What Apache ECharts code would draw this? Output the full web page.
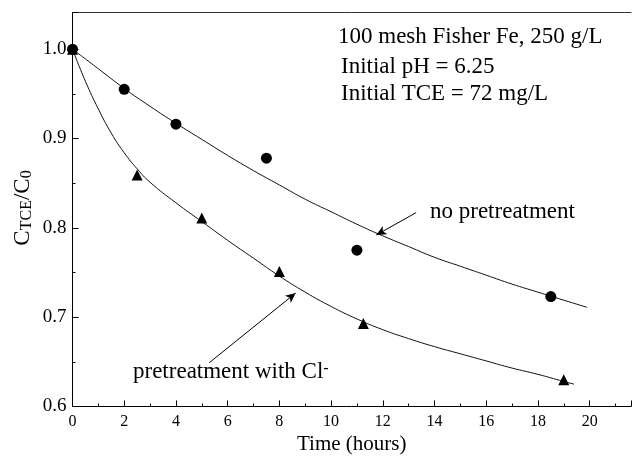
<!DOCTYPE html>
<html><head><meta charset="utf-8">
<script src="https://cdn.jsdelivr.net/npm/echarts@6/dist/echarts.min.js"></script>
<style>html,body{margin:0;padding:0;background:#fff}#c{width:634px;height:464px}</style>
</head><body><div id="c"></div>
<script>
// measured data (no pretreatment = circles, pretreatment with Cl- = triangles)
const circleTime = [0, 2, 4, 7.5, 11, 18.5];
const circleValue = [1.0, 0.955, 0.916, 0.878, 0.775, 0.723];
const triTime = [0, 2.5, 5, 8, 11.25, 19];
const triValue = [1.0, 0.859, 0.811, 0.751, 0.693, 0.630];
// fitted curves
const fitNoTime = [0, 1, 2, 3, 4, 5, 6, 7, 8, 9, 10, 11, 12, 13, 14, 15, 16, 17, 18, 19, 19.9];
const fitNoValue = [1.0, 0.978, 0.956, 0.936, 0.917, 0.899, 0.881, 0.864, 0.848, 0.832, 0.818, 0.804, 0.791, 0.779, 0.767, 0.757, 0.747, 0.737, 0.728, 0.719, 0.711];
const fitClTime = [0, 0.5, 1, 1.5, 2, 2.5, 3, 4, 5, 6, 7, 8, 9, 10, 11, 12, 13, 14, 15, 16, 17, 18, 19, 19.4];
const fitClValue = [1.0, 0.964, 0.933, 0.906, 0.884, 0.866, 0.851, 0.828, 0.807, 0.786, 0.766, 0.746, 0.728, 0.712, 0.698, 0.686, 0.676, 0.667, 0.659, 0.651, 0.643, 0.636, 0.628, 0.625];
// annotation arrows (data coords: tail, tip)
const arrowNo = [[13.29, 0.817], [11.75, 0.792]];
const arrowCl = [[5.29, 0.649], [8.63, 0.727]];
const xTickLabels = [0, 2, 4, 6, 8, 10, 12, 14, 16, 18, 20];
const yTickLabels = [0.6, 0.7, 0.8, 0.9, 1.0];

const zip = (a, b) => a.map((v, i) => [v, b[i]]);
const FONT = '"Liberation Serif", "Times New Roman", serif';

const chart = echarts.init(document.getElementById('c'), null, {renderer: 'canvas'});
chart.setOption({
  animation: false,
  backgroundColor: '#fff',
  grid: {left: 72.5, top: 12.5, right: 0, bottom: 57.5, containLabel: false},
  xAxis: [{
    type: 'value', min: 0, max: 21.6, interval: 2,
    name: 'Time (hours)', nameLocation: 'middle', nameGap: 23,
    nameTextStyle: {fontFamily: FONT, fontSize: 21, color: '#000'},
    axisLine: {show: true, onZero: false, lineStyle: {color: '#000', width: 1}},
    axisTick: {show: true, inside: true, length: 6, lineStyle: {color: '#000'}},
    minorTick: {show: true, splitNumber: 2, length: 3, lineStyle: {color: '#000'}},
    splitLine: {show: false},
    axisLabel: {
      margin: 7, fontFamily: FONT, fontSize: 16, color: '#000',
      formatter: v => xTickLabels.some(t => Math.abs(t - v) < 1e-6) ? String(Math.round(v)) : ''
    }
  }, {
    type: 'value', position: 'top', min: 0, max: 21.6,
    axisLine: {show: true, onZero: false, lineStyle: {color: '#333', width: 1}},
    axisTick: {show: false}, axisLabel: {show: false}, splitLine: {show: false}
  }],
  yAxis: {
    type: 'value', min: 0.6, max: 1.041, interval: 0.1,
    axisLine: {show: true, onZero: false, lineStyle: {color: '#000', width: 1}},
    axisTick: {show: true, inside: true, length: 6, lineStyle: {color: '#000'}},
    minorTick: {show: true, splitNumber: 2, length: 3, lineStyle: {color: '#000'}},
    splitLine: {show: false},
    axisLabel: {
      margin: 6, fontFamily: FONT, fontSize: 19, color: '#000',
      formatter: v => {
        const hit = yTickLabels.find(t => Math.abs(t - v) < 1e-6);
        return hit === undefined ? '' : hit.toFixed(1);
      }
    }
  },
  series: [
    {
      type: 'line', data: zip(fitNoTime, fitNoValue), smooth: 0.5,
      showSymbol: false, lineStyle: {color: '#111', width: 1}, z: 2,
      markLine: {
        silent: true, symbol: ['none', 'arrow'], symbolSize: [7, 10],
        lineStyle: {color: '#000', width: 1, type: 'solid'},
        label: {show: false},
        data: [
          [{coord: arrowNo[0]}, {coord: arrowNo[1]}],
          [{coord: arrowCl[0]}, {coord: arrowCl[1]}]
        ]
      }
    },
    {
      type: 'line', data: zip(fitClTime, fitClValue), smooth: 0.5,
      showSymbol: false, lineStyle: {color: '#111', width: 1}, z: 2
    },
    {
      type: 'scatter', data: zip(triTime, triValue), symbol: 'triangle', symbolSize: 11,
      itemStyle: {color: '#000', opacity: 1}, z: 3
    },
    {
      type: 'scatter', data: zip(circleTime, circleValue), symbol: 'circle', symbolSize: 11,
      itemStyle: {color: '#000', opacity: 1}, z: 4
    }
  ],
  graphic: [
    {type: 'text', x: 23, y: 208, rotation: Math.PI / 2,
      style: {
        text: '{m|C}{s|TCE}{m|/C}{s|0}', align: 'center', verticalAlign: 'middle',
        rich: {
          m: {fontFamily: FONT, fontSize: 23, lineHeight: 23, verticalAlign: 'top', fill: '#000'},
          s: {fontFamily: FONT, fontSize: 16, lineHeight: 16, verticalAlign: 'bottom', padding: [12, 0, 0, 0], fill: '#000'}
        }
      }},
    {type: 'text', x: 338, y: 37, style: {text: '100 mesh Fisher Fe, 250 g/L', font: '23px ' + FONT, fill: '#000', verticalAlign: 'middle'}},
    {type: 'text', x: 341, y: 67, style: {text: 'Initial pH = 6.25', font: '23px ' + FONT, fill: '#000', verticalAlign: 'middle'}},
    {type: 'text', x: 341, y: 94, style: {text: 'Initial TCE = 72 mg/L', font: '23px ' + FONT, fill: '#000', verticalAlign: 'middle'}},
    {type: 'text', x: 430, y: 212, style: {text: 'no pretreatment', font: '23px ' + FONT, fill: '#000', verticalAlign: 'middle'}},
    {type: 'text', x: 133, y: 372,
      style: {
        text: '{m|pretreatment with Cl}{p|-}', verticalAlign: 'middle',
        rich: {
          m: {fontFamily: FONT, fontSize: 23, lineHeight: 23, verticalAlign: 'bottom', fill: '#000'},
          p: {fontFamily: FONT, fontSize: 16, lineHeight: 16, verticalAlign: 'top', fill: '#000'}
        }
      }}
  ]
});
</script>
</body></html>
